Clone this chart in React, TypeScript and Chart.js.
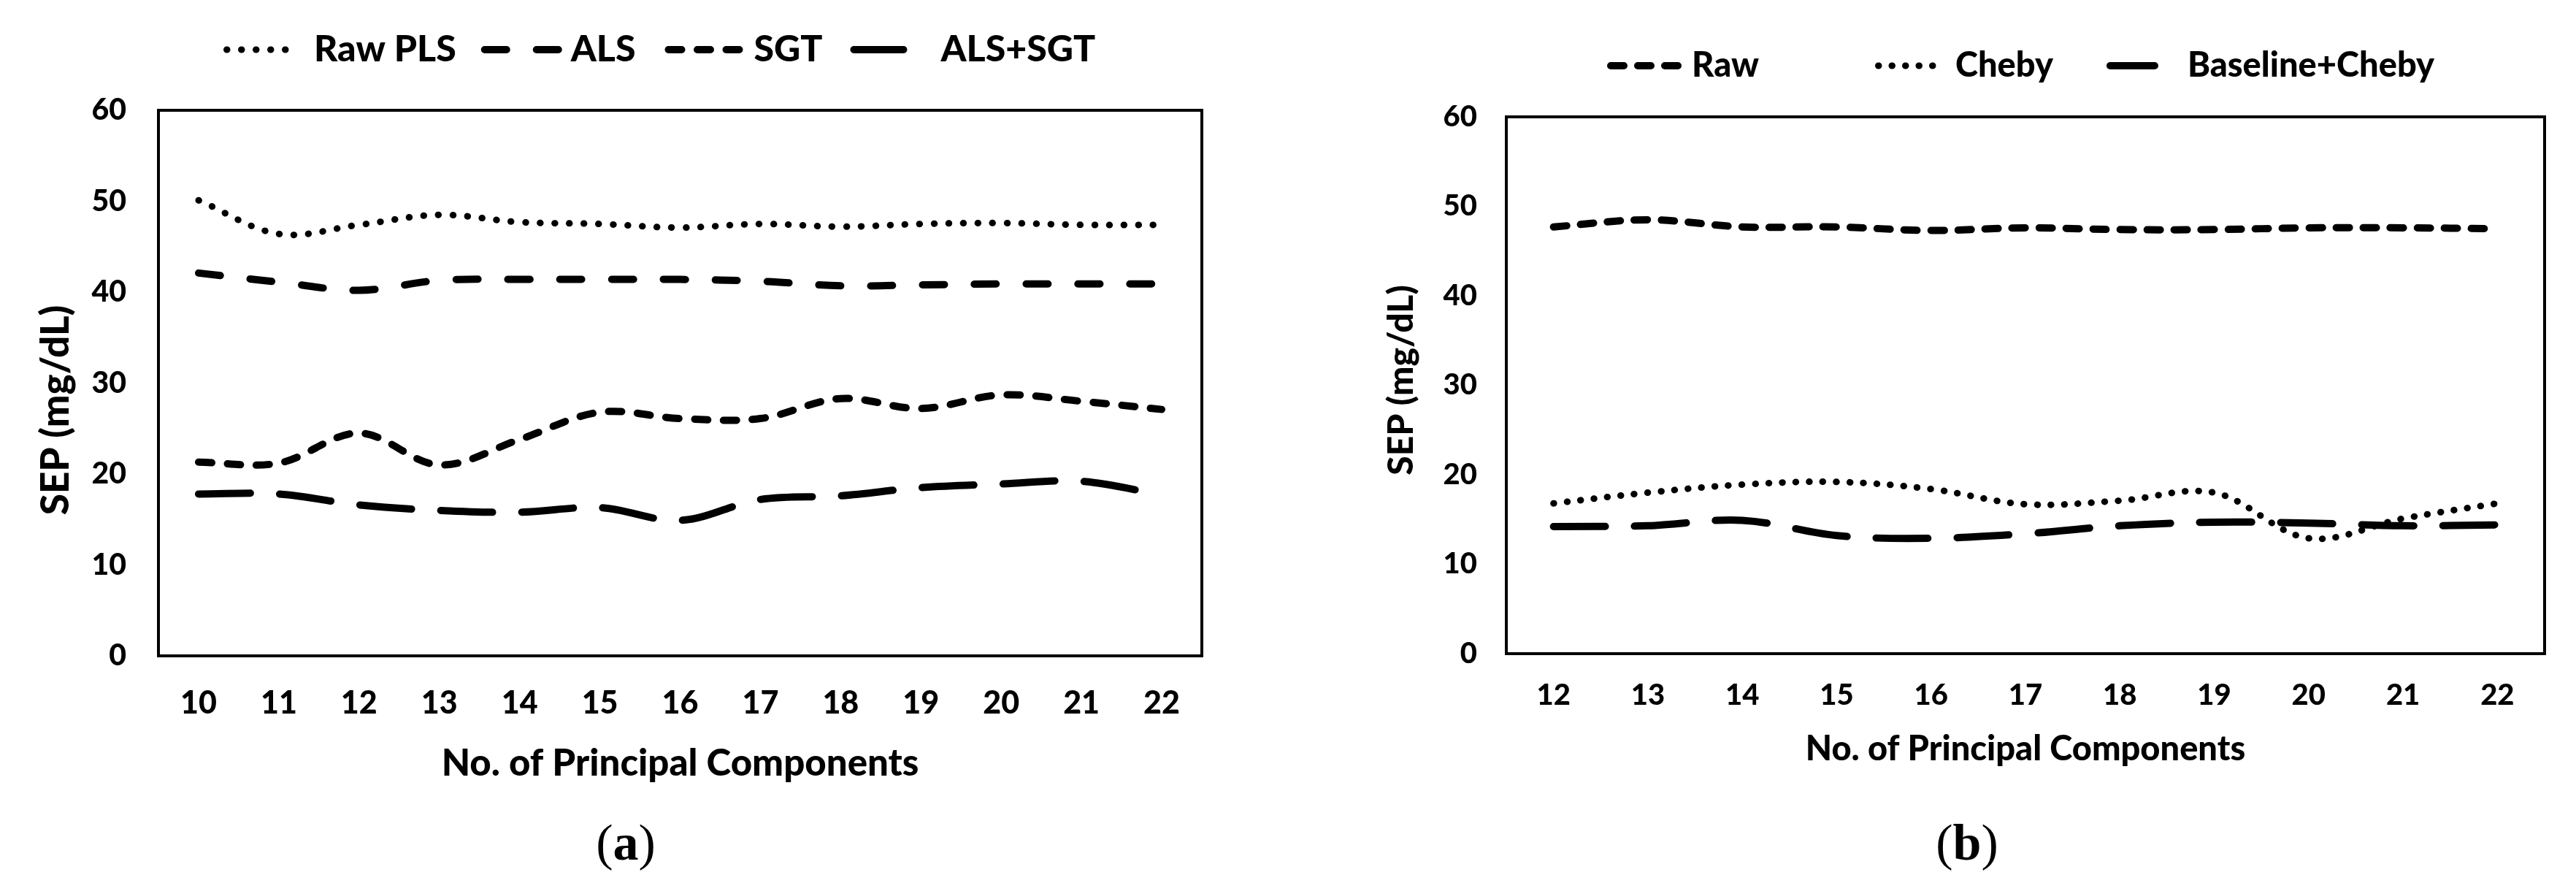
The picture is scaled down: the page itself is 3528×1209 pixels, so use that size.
import React, { useEffect, useRef } from "react";
import { Chart, registerables } from "chart.js";

Chart.register(...registerables);

// ---------- data: panel (a) ----------
const componentsA = ["10", "11", "12", "13", "14", "15", "16", "17", "18", "19", "20", "21", "22"];
const rawPLS = [50.1, 46.4, 47.4, 48.5, 47.7, 47.5, 47.1, 47.5, 47.2, 47.5, 47.6, 47.4, 47.4];
const alsValues = [42.1, 41.1, 40.2, 41.3, 41.4, 41.4, 41.4, 41.2, 40.7, 40.8, 40.9, 40.9, 40.9];
const sgtValues = [21.3, 21.2, 24.5, 21.0, 23.8, 26.8, 26.1, 26.1, 28.3, 27.2, 28.7, 28.0, 27.1];
const alsSgtValues = [17.8, 17.8, 16.6, 16.0, 15.8, 16.3, 14.9, 17.2, 17.6, 18.5, 18.9, 19.2, 17.7];

// ---------- data: panel (b) ----------
const componentsB = ["12", "13", "14", "15", "16", "17", "18", "19", "20", "21", "22"];
const rawValues = [47.7, 48.5, 47.7, 47.7, 47.3, 47.6, 47.4, 47.4, 47.6, 47.6, 47.5];
const chebyValues = [16.8, 18.0, 18.9, 19.2, 18.4, 16.7, 17.1, 18.0, 12.9, 15.1, 16.8];
const baselineChebyValues = [14.2, 14.3, 14.9, 13.2, 12.9, 13.4, 14.3, 14.7, 14.6, 14.3, 14.4];

// ---------- axis ----------
const yMin = 0;
const yMax = 60;
const yStep = 10;
const xTitle = "No. of Principal Components";
const yTitle = "SEP (mg/dL)";

const FONT = "Lato, 'Open Sans', 'DejaVu Sans', sans-serif";
const WEIGHT = 900;

const DOT = { borderWidth: 9, borderDash: [0.5, 19.5], borderCapStyle: "round" };
const DOT_B = { borderWidth: 9, borderDash: [0.5, 18], borderCapStyle: "round" };
const DASH = { borderWidth: 10, borderDash: [30, 41], borderCapStyle: "round" };
const SYSDASH = { borderWidth: 10, borderDash: [18, 21.5], borderCapStyle: "round" };
const SYSDASH_B = { borderWidth: 10, borderDash: [18, 19], borderCapStyle: "round" };
const LONGDASH = { borderWidth: 10, borderDash: [71, 40], borderCapStyle: "round" };

function ds(label: string, data: number[], style: any) {
  return {
    label,
    data,
    borderColor: "#000",
    backgroundColor: "#000",
    pointRadius: 0,
    pointHoverRadius: 0,
    tension: 0.35,
    fill: false,
    borderJoinStyle: "round",
    ...style,
  };
}

const frameBox = {
  id: "frameBox",
  afterDatasetsDraw(chart: any) {
    const { ctx, chartArea } = chart;
    ctx.save();
    ctx.strokeStyle = "#000";
    ctx.lineWidth = 4;
    ctx.setLineDash([]);
    ctx.strokeRect(chartArea.left, chartArea.top, chartArea.right - chartArea.left, chartArea.bottom - chartArea.top);
    ctx.restore();
  },
};

const customLegend = {
  id: "customLegend",
  afterDraw(chart: any, _args: any, opts: any) {
    if (!opts || !opts.items) return;
    const { ctx } = chart;
    let x = opts.x;
    const y = opts.y;
    ctx.save();
    ctx.font = `${WEIGHT} ${opts.fontSize}px ${FONT}`;
    ctx.textBaseline = "middle";
    ctx.textAlign = "left";
    ctx.fillStyle = "#000";
    chart.data.datasets.forEach((d: any, i: number) => {
      const it = opts.items[i];
      const w = d.borderWidth;
      ctx.beginPath();
      ctx.setLineDash(d.borderDash || []);
      ctx.lineDashOffset = 0;
      ctx.lineWidth = w;
      ctx.lineCap = d.borderCapStyle || "butt";
      ctx.strokeStyle = d.borderColor;
      ctx.moveTo(x + w / 2, y);
      ctx.lineTo(x + it.sample - w / 2, y);
      ctx.stroke();
      x += it.sample + it.gap;
      ctx.setLineDash([]);
      ctx.fillText(d.label, x, y);
      x += ctx.measureText(d.label).width + it.after;
    });
    ctx.restore();
  },
};

const yTitlePlugin = {
  id: "yTitlePlugin",
  afterDraw(chart: any, _args: any, opts: any) {
    if (!opts || !opts.text) return;
    const { ctx, chartArea } = chart;
    ctx.save();
    ctx.font = `${WEIGHT} ${opts.fontSize}px ${FONT}`;
    ctx.fillStyle = "#000";
    ctx.textAlign = "center";
    ctx.textBaseline = "middle";
    ctx.translate(chartArea.left - opts.offset, (chartArea.top + chartArea.bottom) / 2 + opts.shift);
    ctx.rotate(-Math.PI / 2);
    ctx.fillText(opts.text, 0, 0);
    ctx.restore();
  },
};

function makeConfig(p: any) {
  return {
    type: "line",
    data: { labels: p.labels, datasets: p.datasets },
    options: {
      responsive: false,
      animation: false,
      devicePixelRatio: 1,
      layout: { padding: { left: 0, top: p.padTop, right: p.padRight, bottom: 0 } },
      plugins: {
        legend: { display: false },
        tooltip: { enabled: false },
        customLegend: p.legend,
        yTitlePlugin: p.yTitle,
      },
      scales: {
        x: {
          type: "category",
          offset: true,
          grid: { display: false, drawTicks: false },
          border: { display: false },
          ticks: {
            color: "#000",
            padding: p.xTickPad,
            maxRotation: 0,
            autoSkip: false,
            font: { family: FONT, size: p.xTickSize, weight: WEIGHT },
          },
          title: {
            display: true,
            text: xTitle,
            color: "#000",
            padding: { top: 0, bottom: p.xTitlePad },
            font: { family: FONT, size: p.xTitleSize, weight: WEIGHT },
          },
          afterFit: (scale: any) => {
            scale.height = p.xHeight;
          },
        },
        y: {
          min: yMin,
          max: yMax,
          grid: { display: false, drawTicks: false },
          border: { display: false },
          ticks: {
            stepSize: yStep,
            color: "#000",
            padding: p.yTickPad,
            font: { family: FONT, size: p.yTickSize, weight: WEIGHT },
          },
          afterFit: (scale: any) => {
            scale.width = p.yWidth;
          },
        },
      },
    },
    plugins: [frameBox, customLegend, yTitlePlugin],
  };
}

export default function App() {
  const refA = useRef<HTMLCanvasElement>(null);
  const refB = useRef<HTMLCanvasElement>(null);

  useEffect(() => {
    const cfgA: any = makeConfig({
      labels: componentsA,
      datasets: [
        ds("Raw PLS", rawPLS, DOT),
        ds("ALS", alsValues, DASH),
        ds("SGT", sgtValues, SYSDASH),
        ds("ALS+SGT", alsSgtValues, LONGDASH),
      ],
      padTop: 151,
      padRight: 74,
      xHeight: 311,
      yWidth: 217,
      xTickPad: 39,
      xTickSize: 43,
      yTickPad: 44,
      yTickSize: 41,
      xTitleSize: 51,
      xTitlePad: 133,
      legend: {
        x: 306,
        y: 68,
        fontSize: 50,
        items: [
          { sample: 109, gap: 15, after: 34 },
          { sample: 111, gap: 12, after: 40 },
          { sample: 107, gap: 15, after: 38 },
          { sample: 78, gap: 46, after: 0 },
        ],
      },
      yTitle: { text: yTitle, fontSize: 53, offset: 140, shift: 37 },
    });
    const cfgB: any = makeConfig({
      labels: componentsB,
      datasets: [
        ds("Raw", rawValues, SYSDASH_B),
        ds("Cheby", chebyValues, DOT_B),
        ds("Baseline+Cheby", baselineChebyValues, LONGDASH),
      ],
      padTop: 160,
      padRight: 43,
      xHeight: 314,
      yWidth: 303,
      xTickPad: 33,
      xTickSize: 40,
      yTickPad: 40,
      yTickSize: 40,
      xTitleSize: 47,
      xTitlePad: 155,
      legend: {
        x: 441,
        y: 90,
        fontSize: 47,
        items: [
          { sample: 102, gap: 14, after: 159 },
          { sample: 101, gap: 9, after: 73 },
          { sample: 71, gap: 40, after: 0 },
        ],
      },
      yTitle: { text: yTitle, fontSize: 48, offset: 143, shift: -7 },
    });
    const a = new Chart(refA.current as HTMLCanvasElement, cfgA);
    const b = new Chart(refB.current as HTMLCanvasElement, cfgB);
    return () => {
      a.destroy();
      b.destroy();
    };
  }, []);

  const captionStyle: React.CSSProperties = {
    position: "absolute",
    top: 1119,
    width: 300,
    textAlign: "center",
    fontFamily: "'Liberation Serif', 'DejaVu Serif', serif",
    fontSize: 70,
    lineHeight: "70px",
    color: "#000",
  };

  return (
    <div style={{ position: "absolute", left: 0, top: 0, width: 3528, height: 1209, background: "#fff", overflow: "hidden" }}>
      <canvas ref={refA} width={1720} height={1209} style={{ position: "absolute", left: 0, top: 0, width: 1720, height: 1209 }} />
      <canvas ref={refB} width={1768} height={1209} style={{ position: "absolute", left: 1760, top: 0, width: 1768, height: 1209 }} />
      <div style={{ ...captionStyle, left: 857 - 150 }}>
        (<b>a</b>)
      </div>
      <div style={{ ...captionStyle, left: 2694 - 150 }}>
        (<b>b</b>)
      </div>
    </div>
  );
}
